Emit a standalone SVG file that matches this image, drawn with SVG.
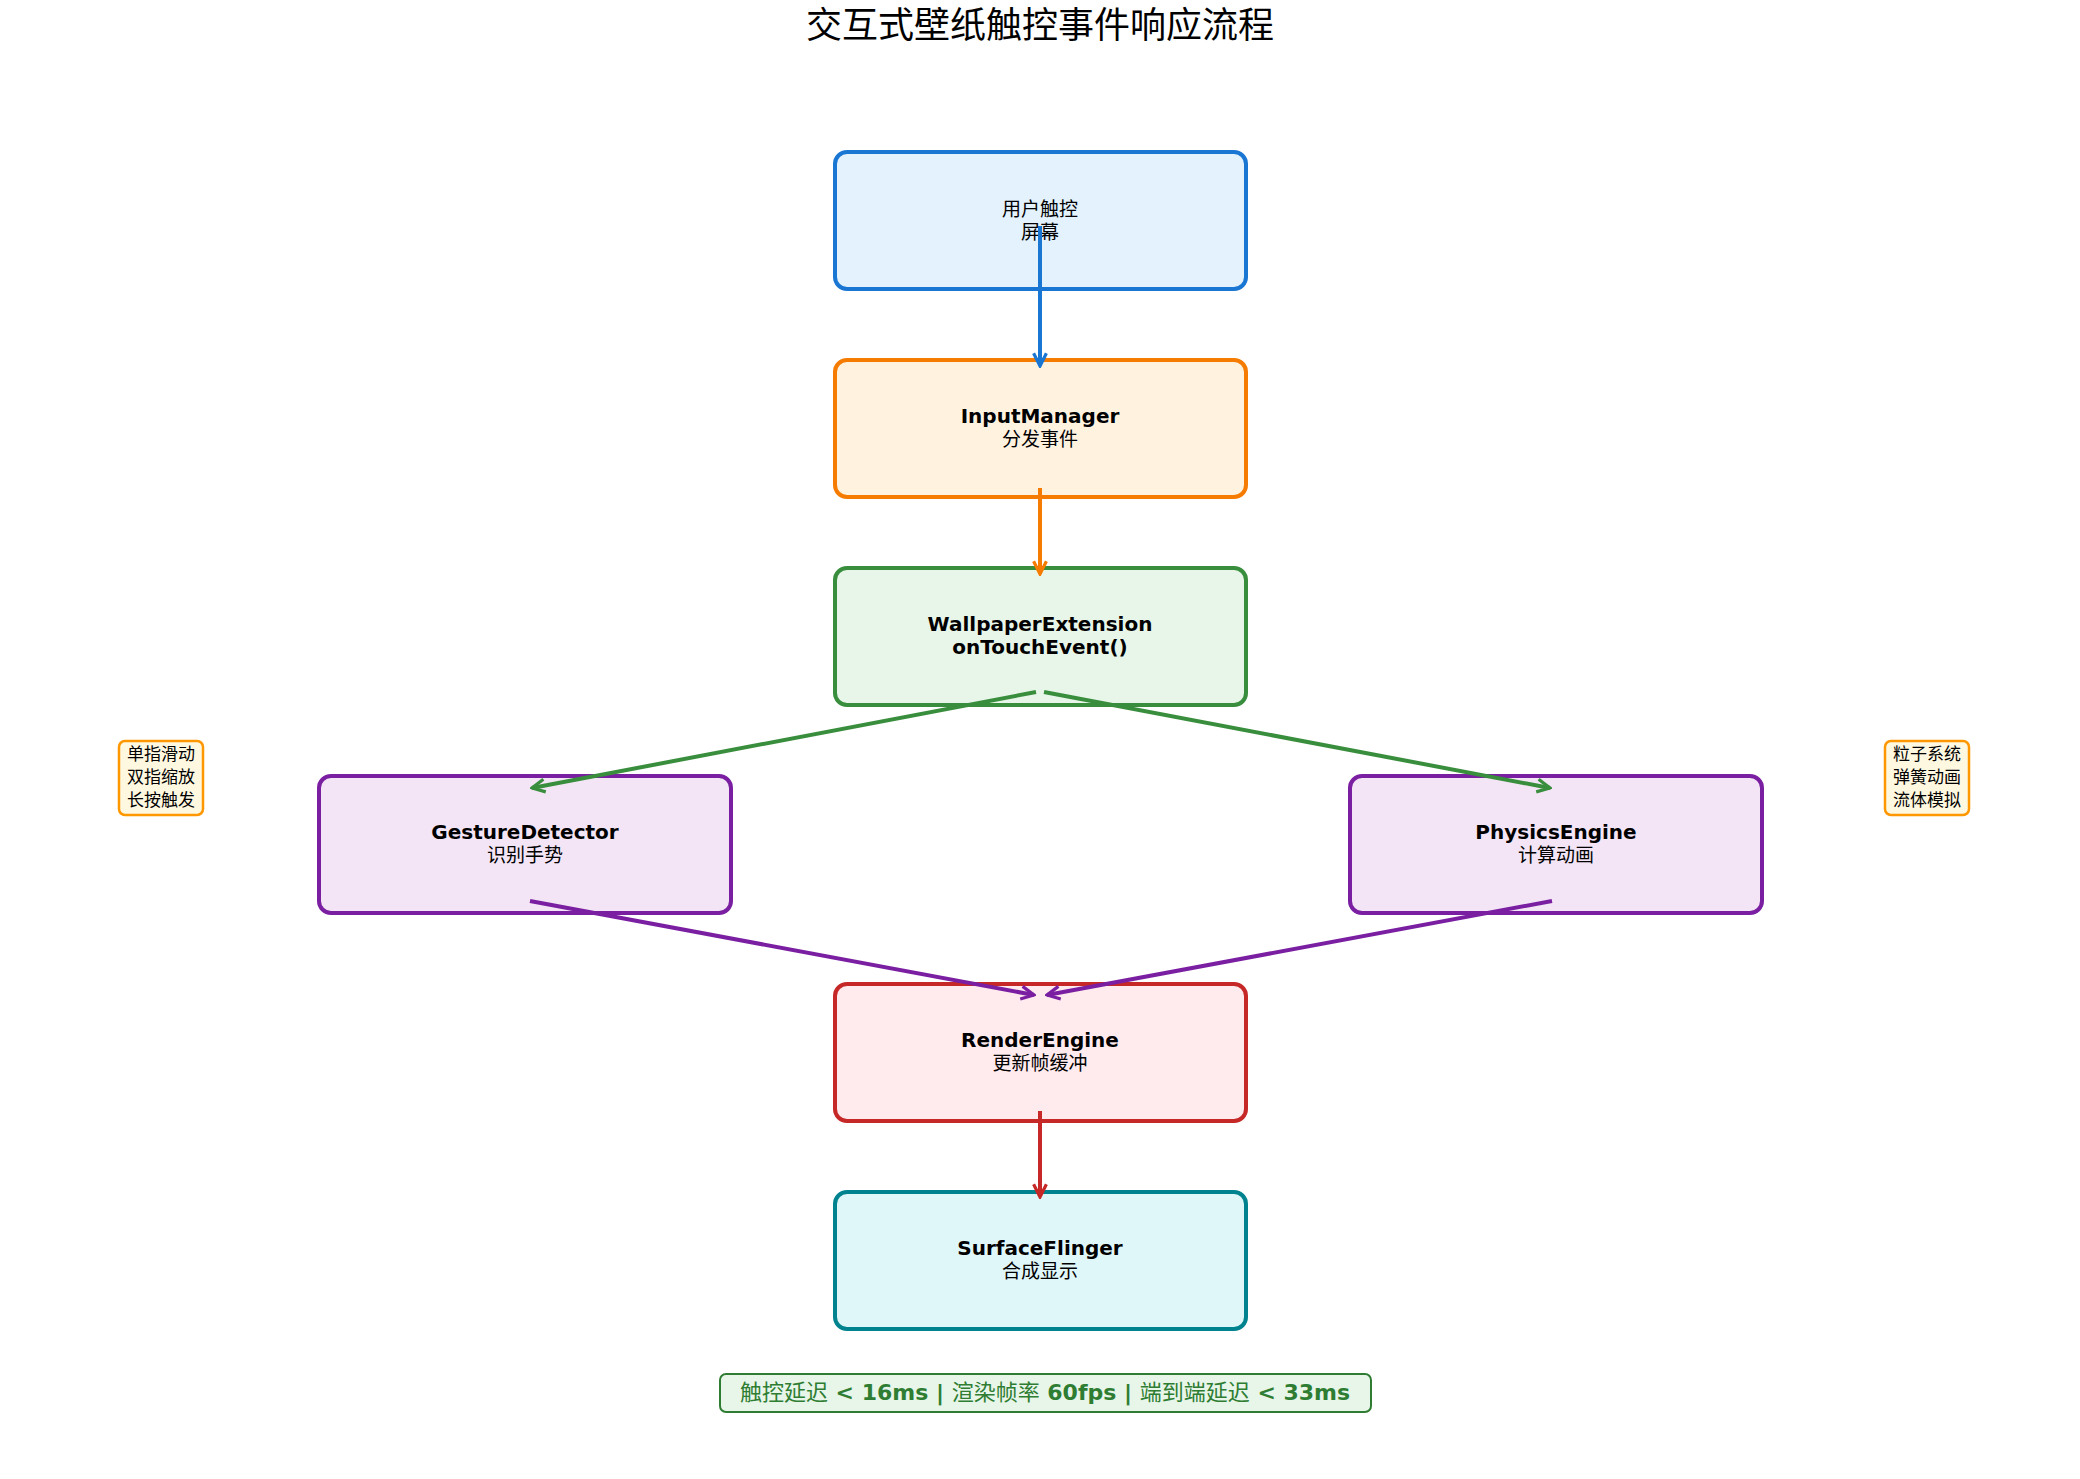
<svg xmlns="http://www.w3.org/2000/svg" width="2080" height="1479" viewBox="0 0 2080 1479">
<style>
text{font-family:"DejaVu Sans","Noto Sans CJK SC",sans-serif;text-anchor:middle;fill:#000}
.b{font-weight:bold;font-size:20px}
.n{font-size:19px}
.box{stroke-width:4}
.note{fill:#fff8e1;stroke:#ff9800;stroke-width:2.5}
.nt{font-size:17px}
.c{fill:none;stroke-width:4}
</style>
<defs>
<marker id="mb" viewBox="0 0 10 10" refX="9" refY="5" markerWidth="4" markerHeight="4" orient="auto" markerUnits="strokeWidth"><path d="M1,1 L9,5 L1,9" fill="none" stroke="#1976d2" stroke-width="2"/></marker>
<marker id="mo" viewBox="0 0 10 10" refX="9" refY="5" markerWidth="4" markerHeight="4" orient="auto" markerUnits="strokeWidth"><path d="M1,1 L9,5 L1,9" fill="none" stroke="#f57c00" stroke-width="2"/></marker>
<marker id="mg" viewBox="0 0 10 10" refX="9" refY="5" markerWidth="4" markerHeight="4" orient="auto" markerUnits="strokeWidth"><path d="M1,1 L9,5 L1,9" fill="none" stroke="#388e3c" stroke-width="2"/></marker>
<marker id="mp" viewBox="0 0 10 10" refX="9" refY="5" markerWidth="4" markerHeight="4" orient="auto" markerUnits="strokeWidth"><path d="M1,1 L9,5 L1,9" fill="none" stroke="#7b1fa2" stroke-width="2"/></marker>
<marker id="mr" viewBox="0 0 10 10" refX="9" refY="5" markerWidth="4" markerHeight="4" orient="auto" markerUnits="strokeWidth"><path d="M1,1 L9,5 L1,9" fill="none" stroke="#c62828" stroke-width="2"/></marker>
</defs>
<rect width="2080" height="1479" fill="#fff"/>
<g transform="translate(-5,-4)">
<text x="1045" y="42" style="font-size:36px">交互式壁纸触控事件响应流程</text>
<g id="n1"><rect class="box" x="840" y="156" width="411" height="137" rx="12" fill="#e3f2fd" stroke="#1976d2"/><text class="n" x="1045" y="220">用户触控</text><text class="n" x="1045" y="243">屏幕</text></g>
<g id="n2"><rect class="box" x="840" y="364" width="411" height="137" rx="12" fill="#fff3e0" stroke="#f57c00"/><text class="b" x="1045" y="427">InputManager</text><text class="n" x="1045" y="450">分发事件</text></g>
<g id="n3"><rect class="box" x="840" y="572" width="411" height="137" rx="12" fill="#e8f5e9" stroke="#388e3c"/><text class="b" x="1045" y="635">WallpaperExtension</text><text class="b" x="1045" y="658">onTouchEvent()</text></g>
<g id="n4"><rect class="box" x="324" y="780" width="412" height="137" rx="12" fill="#f3e5f5" stroke="#7b1fa2"/><text class="b" x="530" y="843">GestureDetector</text><text class="n" x="530" y="866">识别手势</text></g>
<g id="n5"><rect class="box" x="1355" y="780" width="412" height="137" rx="12" fill="#f3e5f5" stroke="#7b1fa2"/><text class="b" x="1561" y="843">PhysicsEngine</text><text class="n" x="1561" y="866">计算动画</text></g>
<g id="n6"><rect class="box" x="840" y="988" width="411" height="137" rx="12" fill="#ffebee" stroke="#c62828"/><text class="b" x="1045" y="1051">RenderEngine</text><text class="n" x="1045" y="1074">更新帧缓冲</text></g>
<g id="n7"><rect class="box" x="840" y="1196" width="411" height="137" rx="12" fill="#e0f7fa" stroke="#00838f"/><text class="b" x="1045" y="1259">SurfaceFlinger</text><text class="n" x="1045" y="1282">合成显示</text></g>
<g id="note1"><rect class="note" x="124" y="745" width="84" height="74" rx="6"/><text class="nt" x="166" y="764">单指滑动</text><text class="nt" x="166" y="787">双指缩放</text><text class="nt" x="166" y="810">长按触发</text></g>
<g id="note2"><rect class="note" x="1890" y="745" width="84" height="74" rx="6"/><text class="nt" x="1932" y="764">粒子系统</text><text class="nt" x="1932" y="787">弹簧动画</text><text class="nt" x="1932" y="810">流体模拟</text></g>
<g id="footer"><rect x="725" y="1378" width="651" height="38" rx="6" fill="#e8f5e9" stroke="#2e7d32" stroke-width="2"/><text x="1050" y="1404" style="font-size:22px;font-weight:bold;fill:#2e7d32"><tspan font-weight="normal">触控延迟</tspan> &lt; 16ms | <tspan font-weight="normal">渲染帧率</tspan> 60fps | <tspan font-weight="normal">端到端延迟</tspan> &lt; 33ms</text></g>
<g id="connectors">
<line class="c" stroke="#1976d2" x1="1045" y1="230" x2="1045" y2="370" marker-end="url(#mb)"/>
<line class="c" stroke="#f57c00" x1="1045" y1="492" x2="1045" y2="578" marker-end="url(#mo)"/>
<line class="c" stroke="#388e3c" x1="1041" y1="696" x2="537" y2="792" marker-end="url(#mg)"/>
<line class="c" stroke="#388e3c" x1="1049" y1="696" x2="1555" y2="792" marker-end="url(#mg)"/>
<line class="c" stroke="#7b1fa2" x1="535" y1="905" x2="1039" y2="999" marker-end="url(#mp)"/>
<line class="c" stroke="#7b1fa2" x1="1557" y1="905" x2="1052" y2="999" marker-end="url(#mp)"/>
<line class="c" stroke="#c62828" x1="1045" y1="1115" x2="1045" y2="1201" marker-end="url(#mr)"/>
</g>
</g>
</svg>
